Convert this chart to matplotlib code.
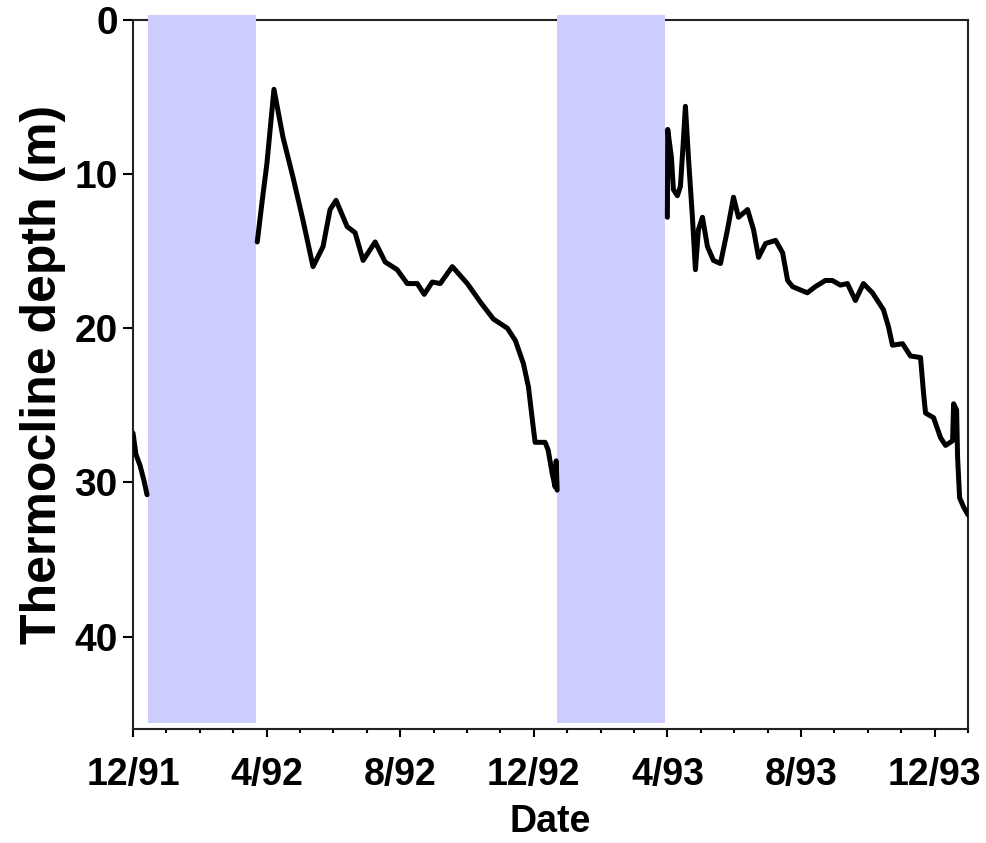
"""Thermocline depth through 1992-1993, with ice-cover periods shaded."""
import matplotlib
matplotlib.use("Agg")
import matplotlib.pyplot as plt
from matplotlib.ticker import MultipleLocator

plt.rcParams["font.family"] = ["Liberation Sans", "DejaVu Sans"]
plt.rcParams["font.weight"] = "bold"

# x is months since 1 Dec 1991, y is depth in metres
seg1_month = [0.00, 0.09, 0.21, 0.33, 0.42]
seg1_depth = [26.8, 28.2, 28.9, 29.9, 30.8]

seg2_month = [3.72, 3.87, 4.01, 4.22, 4.49, 4.79, 5.09, 5.39, 5.69, 5.90,
              6.08, 6.41, 6.65, 6.89, 7.25, 7.55, 7.91, 8.21, 8.51, 8.72,
              8.96, 9.20, 9.56, 10.01, 10.40, 10.79, 11.21, 11.45, 11.69, 11.84,
              11.96, 12.04, 12.34, 12.43, 12.55, 12.64, 12.67, 12.70]
seg2_depth = [14.4, 11.7, 9.3, 4.5, 7.6, 10.2, 13.0, 16.0, 14.7, 12.3,
              11.7, 13.4, 13.8, 15.6, 14.4, 15.7, 16.2, 17.1, 17.1, 17.8,
              17.0, 17.1, 16.0, 17.1, 18.3, 19.4, 20.0, 20.8, 22.3, 23.8,
              26.0, 27.4, 27.4, 27.9, 29.4, 30.3, 28.6, 30.5]

seg3_month = [16.00, 16.01, 16.12, 16.18, 16.30, 16.39, 16.48, 16.54, 16.63, 16.75,
              16.84, 16.93, 17.05, 17.20, 17.38, 17.59, 17.80, 17.98, 18.13, 18.40,
              18.58, 18.73, 18.94, 19.24, 19.45, 19.60, 19.75, 20.19, 20.43, 20.73,
              20.94, 21.18, 21.39, 21.63, 21.87, 22.14, 22.47, 22.62, 22.74, 23.04,
              23.28, 23.58, 23.67, 23.73, 23.97, 24.18, 24.33, 24.54, 24.57, 24.66,
              24.69, 24.75, 24.87, 25.00]
seg3_depth = [12.8, 7.1, 8.9, 11.0, 11.4, 10.8, 7.8, 5.6, 8.9, 12.8,
              16.2, 13.6, 12.8, 14.7, 15.6, 15.8, 13.6, 11.5, 12.8, 12.3,
              13.6, 15.4, 14.5, 14.3, 15.1, 16.9, 17.3, 17.7, 17.3, 16.9,
              16.9, 17.2, 17.1, 18.2, 17.1, 17.7, 18.8, 19.9, 21.1, 21.0,
              21.8, 21.9, 24.2, 25.5, 25.8, 27.1, 27.6, 27.3, 24.9, 25.3,
              28.4, 31.0, 31.6, 32.1]

# ice-covered periods (start, end) in months since Dec 1991
ice_periods = [(0.45, 3.68), (12.70, 15.93)]

tick_months = [0, 4, 8, 12, 16, 20, 24]
tick_labels = ["12/91", "4/92", "8/92", "12/92", "4/93", "8/93", "12/93"]
depth_ticks = [0, 10, 20, 30, 40]

fig = plt.figure(figsize=(9.86, 8.43), dpi=100)
ax = fig.add_axes([0.1349, 0.1352, 0.8468, 0.8411])

for start, end in ice_periods:
    ax.axvspan(start, end, ymin=0.0085, ymax=1.007, color="#CCCCFF",
               lw=0, zorder=3, clip_on=False)

for m, d in [(seg1_month, seg1_depth), (seg2_month, seg2_depth), (seg3_month, seg3_depth)]:
    ax.plot(m, d, color="black", lw=3.6, zorder=4,
            solid_joinstyle="round", solid_capstyle="round")

ax.set_xlim(0, 25)
ax.set_ylim(46, 0)

ax.set_xticks(tick_months)
ax.set_xticklabels(tick_labels)
ax.xaxis.set_minor_locator(MultipleLocator(1))
ax.set_yticks(depth_ticks)

for s in ax.spines.values():
    s.set_linewidth(1.5)
    s.set_color("#222222")

ax.tick_params(axis="x", which="major", length=6, width=1.5, pad=14,
               labelsize=27, direction="out")
ax.tick_params(axis="x", which="minor", length=3, width=1.5, direction="out")
ax.tick_params(axis="y", which="major", length=7, width=1.5, pad=4,
               labelsize=28, direction="out")

ax.set_xlabel("Date", fontsize=27, fontweight="bold", labelpad=8)
ax.set_ylabel("Thermocline depth (m)", fontsize=36, fontweight="bold", labelpad=6)

fig.savefig("out.png", dpi=100)
